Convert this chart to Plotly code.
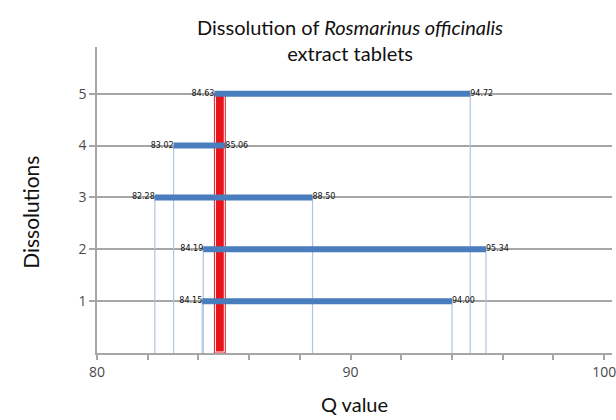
import plotly.graph_objects as go

# Q-value ranges (min, max) for each dissolution run
dissolutions = [1, 2, 3, 4, 5]
q_low = [84.15, 84.19, 82.28, 83.02, 84.63]
q_high = [94.00, 95.34, 88.50, 85.06, 94.72]

x_ticks = [80, 90, 100]

BLUE = "#4a7dbd"
DROP = "#adc4e4"
RED = "#e8141c"
GRID = "#a6a6a6"

fig = go.Figure()

# vertical drop lines from every range end to the x axis
for d, lo, hi in zip(dissolutions, q_low, q_high):
    for xv in (lo, hi):
        fig.add_trace(go.Scatter(
            x=[xv, xv], y=[d, 0], mode="lines",
            line=dict(color=DROP, width=1.2),
            hoverinfo="skip", showlegend=False))

# common interval shared by all runs
ov_lo = max(q_low)
ov_hi = min(q_high)
top = max(dissolutions)
band_x = [ov_lo, ov_hi, ov_hi, ov_lo, ov_lo]
band_y = [0, 0, top, top, 0]
fig.add_trace(go.Scatter(
    x=band_x, y=band_y, mode="lines", fill="toself",
    fillcolor=RED, line=dict(color="white", width=3),
    hoverinfo="skip", showlegend=False))
fig.add_trace(go.Scatter(
    x=band_x, y=band_y, mode="lines",
    line=dict(color=RED, width=1),
    hoverinfo="skip", showlegend=False))

# range bars
for d, lo, hi in zip(dissolutions, q_low, q_high):
    fig.add_trace(go.Scatter(
        x=[lo, hi], y=[d, d], mode="lines",
        line=dict(color=BLUE, width=6),
        hoverinfo="skip", showlegend=False))

label_font = dict(family="DejaVu Sans", size=8, color="#111111")
fig.add_trace(go.Scatter(
    x=q_low, y=dissolutions, mode="text",
    text=[f"{v:.2f}" for v in q_low], textposition="middle left",
    textfont=label_font, hoverinfo="skip", showlegend=False))
fig.add_trace(go.Scatter(
    x=q_high, y=dissolutions, mode="text",
    text=[f"{v:.2f}" for v in q_high], textposition="middle right",
    textfont=label_font, hoverinfo="skip", showlegend=False))

fig.update_layout(
    width=616, height=420,
    margin=dict(l=97, r=0, t=47, b=67),
    paper_bgcolor="white", plot_bgcolor="white",
    xaxis=dict(
        range=[80, 100.31], tickvals=x_ticks,
        ticktext=[str(v) for v in x_ticks],
        ticklabeloverflow="allow",
        showgrid=False, zeroline=False,
        showline=True, linecolor=GRID, linewidth=1.5,
        ticks="outside", ticklen=5, tickcolor=GRID, tickwidth=1.5,
        minor=dict(dtick=2, tick0=80, ticks="outside", ticklen=5,
                   tickcolor=GRID, tickwidth=1.5, showgrid=False),
        tickfont=dict(family="Open Sans", size=14, color="#4a4a4a"),
        title=dict(text="Q value", standoff=18,
                   font=dict(family="Lato", size=20, color="#111111")),
    ),
    yaxis=dict(
        range=[0, 5.9], tickvals=dissolutions,
        showgrid=True, gridcolor=GRID, gridwidth=1.5, zeroline=False,
        showline=True, linecolor=GRID, linewidth=1.5,
        ticks="outside", ticklen=6, tickcolor=GRID, tickwidth=1.5,
        tickfont=dict(family="Open Sans", size=14, color="#4a4a4a"),
    ),
    annotations=[
        dict(text="Dissolution of <i>Rosmarinus officinalis</i><br>extract tablets",
             xref="paper", yref="paper",
             x=(352 - 97) / 519, y=(353 - 40) / 306,
             xanchor="center", yanchor="middle", showarrow=False,
             font=dict(family="Lato", size=20, color="#111111")),
        dict(text="Dissolutions", textangle=-90,
             xref="paper", yref="paper", x=-0.129, y=0.46,
             xanchor="center", yanchor="middle", showarrow=False,
             font=dict(family="Lato", size=21, color="#111111")),
    ],
)

fig.write_html("out.html")
